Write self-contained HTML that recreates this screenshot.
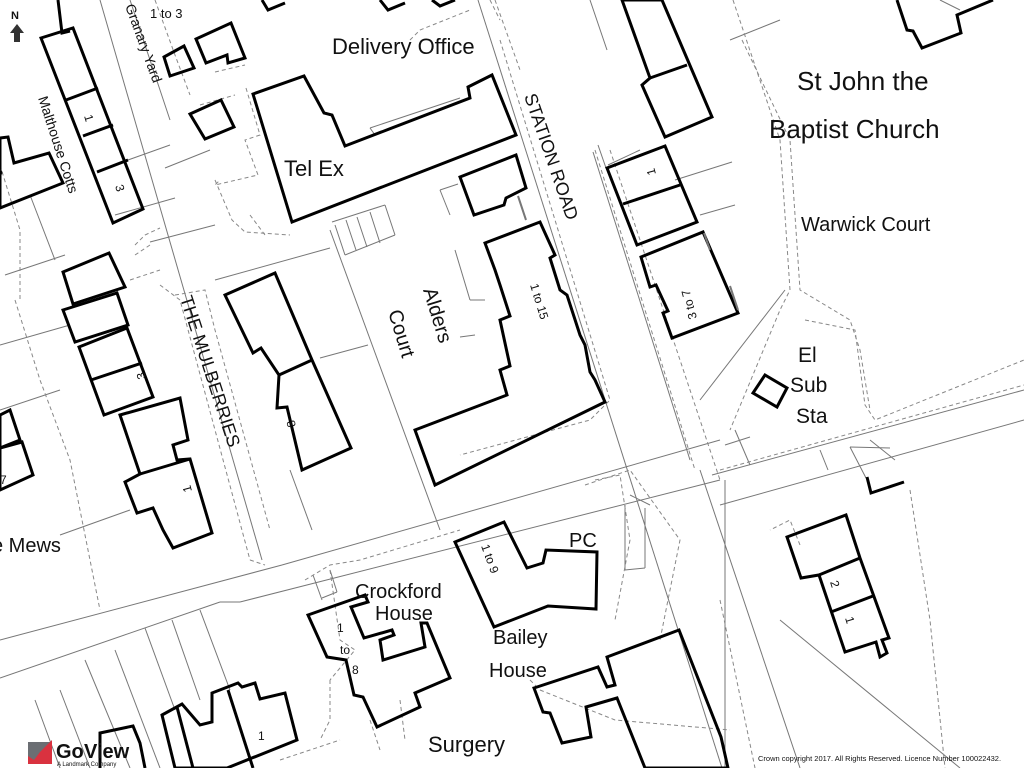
<!DOCTYPE html>
<html><head><meta charset="utf-8"><style>
html,body{margin:0;padding:0;background:#fff;width:1024px;height:768px;overflow:hidden}
svg{display:block}
text{font-family:"Liberation Sans",Arial,sans-serif;fill:#111}
.b{fill:none;stroke:#000;stroke-width:3;stroke-linejoin:miter}
.g{fill:none;stroke:#777;stroke-width:1}
.d{fill:none;stroke:#888;stroke-width:1;stroke-dasharray:4 3}
</style></head><body>
<svg width="1024" height="768" viewBox="0 0 1024 768" xmlns="http://www.w3.org/2000/svg">
<!-- road / boundary lines -->
<g class="g">
<line x1="478" y1="0" x2="722" y2="768"/>
<line x1="593" y1="152" x2="690" y2="460"/>
<line x1="700" y1="470" x2="800" y2="768"/>
<line x1="700" y1="400" x2="785" y2="290"/>
<line x1="590" y1="0" x2="607" y2="50"/>
<line x1="100" y1="0" x2="262" y2="560"/>
<line x1="130" y1="0" x2="170" y2="120"/>
<line x1="0" y1="640" x2="282" y2="565"/>
<line x1="0" y1="678" x2="220" y2="602"/>
<line x1="282" y1="565" x2="720" y2="440"/>
<line x1="220" y1="602" x2="240" y2="602"/>
<line x1="240" y1="602" x2="720" y2="480"/>
<line x1="720" y1="505" x2="1024" y2="420"/>
<line x1="712" y1="475" x2="1024" y2="390"/>
<line x1="725" y1="480" x2="725" y2="768"/>
<line x1="30" y1="195" x2="55" y2="260"/>
<line x1="0" y1="345" x2="70" y2="325"/>
<line x1="0" y1="410" x2="60" y2="390"/>
<line x1="5" y1="275" x2="65" y2="255"/>
<line x1="60" y1="535" x2="130" y2="510"/>
<line x1="128" y1="160" x2="170" y2="145"/>
<line x1="150" y1="242" x2="215" y2="225"/>
<line x1="100" y1="0" x2="100" y2="0"/>
<line x1="165" y1="168" x2="210" y2="150"/>
<line x1="115" y1="215" x2="175" y2="198"/>
<line x1="290" y1="470" x2="312" y2="530"/>
<line x1="330" y1="230" x2="440" y2="530"/>
<line x1="215" y1="280" x2="330" y2="248"/>
<line x1="320" y1="358" x2="368" y2="345"/>
<line x1="35" y1="700" x2="60" y2="768"/>
<line x1="60" y1="690" x2="90" y2="768"/>
<line x1="85" y1="660" x2="130" y2="768"/>
<line x1="115" y1="650" x2="160" y2="768"/>
<line x1="145" y1="628" x2="175" y2="710"/>
<line x1="172" y1="620" x2="200" y2="700"/>
<line x1="200" y1="610" x2="230" y2="690"/>
<line x1="313" y1="575" x2="322" y2="600"/>
<line x1="322" y1="598" x2="337" y2="592"/>
<line x1="330" y1="570" x2="337" y2="592"/>
<line x1="630" y1="495" x2="650" y2="505"/>
<line x1="625" y1="505" x2="625" y2="570"/>
<line x1="625" y1="570" x2="645" y2="568"/>
<line x1="645" y1="508" x2="645" y2="568"/>
<line x1="780" y1="620" x2="960" y2="768"/>
<line x1="735" y1="430" x2="750" y2="465"/>
<line x1="725" y1="445" x2="750" y2="437"/>
<line x1="675" y1="180" x2="732" y2="162"/>
<line x1="700" y1="215" x2="735" y2="205"/>
<line x1="608" y1="165" x2="640" y2="150"/>
<line x1="730" y1="40" x2="780" y2="20"/>
<line x1="940" y1="0" x2="960" y2="10"/>
<line x1="598" y1="145" x2="606" y2="168"/>
<line x1="866" y1="478" x2="850" y2="447"/>
<line x1="850" y1="447" x2="890" y2="448"/>
<line x1="870" y1="440" x2="895" y2="460"/>
<line x1="332" y1="222" x2="385" y2="205"/>
<line x1="345" y1="255" x2="335" y2="225"/>
<line x1="356" y1="250" x2="346" y2="220"/>
<line x1="367" y1="247" x2="357" y2="217"/>
<line x1="380" y1="243" x2="370" y2="212"/>
<line x1="385" y1="205" x2="395" y2="235"/>
<line x1="345" y1="255" x2="395" y2="235"/>
<line x1="370" y1="128" x2="460" y2="98"/>
<line x1="370" y1="128" x2="375" y2="135"/>
<line x1="440" y1="190" x2="450" y2="215"/>
<line x1="440" y1="190" x2="458" y2="184"/>
<line x1="455" y1="250" x2="470" y2="300"/>
<line x1="470" y1="300" x2="485" y2="300"/>
<line x1="460" y1="337" x2="475" y2="335"/>
<line x1="820" y1="450" x2="828" y2="470"/>
</g>
<g class="d">
<path d="M155 0 L175 55 L190 95"/>
<path d="M215 72 L245 65"/>
<path d="M200 105 L235 95"/>
<path d="M246 88 L260 135 L245 140 L258 175 L215 185 L220 180"/>
<path d="M215 180 L232 220 L245 232 L290 235"/>
<path d="M250 215 L265 235"/>
<path d="M410 40 L420 30 L470 10"/>
<path d="M495 0 L520 70"/>
<path d="M500 40 L610 400 L590 420 L460 455"/>
<path d="M490 0 L500 20"/>
<path d="M595 150 L695 470"/>
<path d="M610 150 L720 480"/>
<path d="M733 0 L780 140 L790 290 L780 310 L730 430"/>
<path d="M742 40 L790 140 L800 290 L850 320 L860 350 L870 410"/>
<path d="M805 320 L855 330 L865 405 L875 420 L1024 360"/>
<path d="M720 470 L1024 385"/>
<path d="M0 165 L20 230 L20 300"/>
<path d="M15 300 L40 380 L70 460 L100 610"/>
<path d="M135 245 L145 235 L160 228"/>
<path d="M130 280 L160 270"/>
<path d="M135 255 L150 245"/>
<path d="M160 285 L180 300 L250 560"/>
<path d="M250 560 L265 565"/>
<path d="M175 295 L205 290 L215 330 L270 530"/>
<path d="M305 580 L330 565 L360 560 L460 530"/>
<path d="M330 570 L340 640 L355 650 L330 680"/>
<path d="M330 680 L330 720 L320 740"/>
<path d="M585 485 L630 470 L680 540 L660 640"/>
<path d="M595 480 L620 475 L630 540 L615 620"/>
<path d="M530 680 L540 690"/>
<path d="M540 690 L615 720 L730 730"/>
<path d="M720 600 L755 768"/>
<path d="M400 700 L405 740"/>
<path d="M280 760 L340 740"/>
<path d="M370 720 L380 750"/>
<path d="M800 545 L790 520 L770 530"/>
<path d="M910 490 L930 620 L945 768"/>
</g>
<!-- buildings -->
<g class="b">
<polygon points="253,94 304,76 324,113 332,115 345,146 470,98 468,87 492,75 516,135 292,222"/>
<polygon points="190,114 221,100 234,127 205,139"/>
<polygon points="164,57 184,46 194,68 170,76"/>
<polygon points="196,39 231,23 245,58 228,63 227,55 206,63"/>
<polyline points="262,0 268,10 285,3"/>
<polyline points="380,0 388,10 405,3"/>
<polyline points="432,0 440,6 455,0"/>
<polygon points="41,38 73,28 143,209 113,223"/>
<line x1="66" y1="100" x2="98" y2="88"/>
<line x1="83" y1="136" x2="113" y2="125"/>
<line x1="97" y1="172" x2="128" y2="160"/>
<polyline points="58,0 62,33 70,31"/>
<polygon points="0,138 8,137 14,163 49,153 63,183 0,208"/>
<polygon points="0,415 10,410 20,440 0,448"/>
<polygon points="0,448 22,442 33,475 0,490"/>
<polygon points="63,272 109,253 125,287 73,304"/>
<polygon points="63,310 117,293 128,325 75,342"/>
<polygon points="79,347 127,328 153,397 104,415"/>
<line x1="91" y1="380" x2="142" y2="363"/>
<polygon points="120,415 180,398 188,440 173,445 177,460 190,459 212,533 173,548 163,530 153,508 137,513 125,482 140,474"/>
<line x1="140" y1="474" x2="190" y2="459"/>
<polygon points="225,295 275,273 312,360 351,448 302,470 287,407 277,408 279,375 261,348 253,353"/>
<line x1="279" y1="375" x2="312" y2="360"/>
<polygon points="460,177 516,155 526,188 506,198 504,205 474,215"/>
<polygon points="485,243 540,222 555,255 550,258 560,290 567,295 580,335 585,345 590,372 595,380 605,402 435,485 415,430 507,395 500,370 510,366 500,320 510,316 500,285 495,270"/>
<polygon points="622,0 662,0 712,117 665,137 642,85 650,78"/>
<line x1="650" y1="78" x2="687" y2="65"/>
<polygon points="607,168 665,146 697,222 637,245"/>
<line x1="623" y1="204" x2="680" y2="185"/>
<polygon points="641,257 703,232 738,313 672,338 663,313 668,311 656,285 650,287"/>
<polygon points="765,375 787,388 777,407 753,393"/>
<polyline points="897,0 907,30 913,31 922,48 961,33 957,15 993,0"/>
<polyline points="867,477 871,493 904,482"/>
<polygon points="455,542 504,522 527,568 543,563 546,550 597,552 596,609 548,606 494,627"/>
<polygon points="308,615 365,595 368,602 351,607 364,638 392,630 394,635 380,640 383,660 425,647 421,623 427,623 450,678 415,693 420,707 377,727 363,697 354,695 346,660 327,657"/>
<polygon points="534,688 598,667 607,687 615,685 607,657 679,630 721,737 728,768 645,768 617,698 586,707 591,737 562,743 550,713 543,712"/>
<polygon points="787,537 846,515 860,558 889,638 882,640 887,653 880,657 876,642 845,652 819,575 801,578"/>
<line x1="819" y1="575" x2="860" y2="558"/>
<line x1="831" y1="612" x2="873" y2="596"/>
<polygon points="162,715 182,704 200,725 212,722 212,693 238,683 242,687 255,683 260,699 285,693 297,740 227,768 175,768"/>
<line x1="177" y1="707" x2="193" y2="768"/>
<line x1="228" y1="690" x2="253" y2="768"/>
<polyline points="100,768 100,733 133,726 140,743 145,768"/>
</g>
<g stroke="#777" stroke-width="2"><line x1="518" y1="196" x2="526" y2="220"/><line x1="704" y1="233" x2="710" y2="250"/><line x1="730" y1="286" x2="738" y2="310"/></g>
<!-- labels -->
<text x="332" y="54" font-size="22">Delivery Office</text>
<text x="284" y="176" font-size="22">Tel Ex</text>
<text x="797" y="90" font-size="26">St John the</text>
<text x="769" y="138" font-size="26">Baptist Church</text>
<text x="801" y="231" font-size="20">Warwick Court</text>
<text x="798" y="362" font-size="21">El</text>
<text x="790" y="392" font-size="21">Sub</text>
<text x="796" y="423" font-size="21">Sta</text>
<text x="569" y="547" font-size="20">PC</text>
<text x="355" y="598" font-size="20">Crockford</text>
<text x="375" y="620" font-size="20">House</text>
<text x="493" y="644" font-size="20">Bailey</text>
<text x="489" y="677" font-size="20">House</text>
<text x="428" y="752" font-size="22">Surgery</text>
<text x="-8" y="552" font-size="20">e Mews</text>
<text x="150" y="18" font-size="13">1 to 3</text>
<text font-size="18" transform="translate(524,96) rotate(71)">STATION ROAD</text>
<text font-size="18" transform="translate(180,298) rotate(72)">THE MULBERRIES</text>
<text font-size="14" transform="translate(125,6) rotate(70)">Granary Yard</text>
<text font-size="14" transform="translate(38,98) rotate(72)">Malthouse Cotts</text>
<text font-size="20" transform="translate(423,290) rotate(73)">Alders</text>
<text font-size="20" transform="translate(388,312) rotate(73)">Court</text>
<text font-size="12" transform="translate(530,285) rotate(73)">1 to 15</text>
<text font-size="12" transform="translate(481,546) rotate(70)">1 to 9</text>
<text font-size="12" transform="translate(697,318) rotate(-105)">3 to 7</text>
<text font-size="12" x="337" y="632">1</text>
<text font-size="12" x="340" y="654">to</text>
<text font-size="12" x="352" y="674">8</text>
<text font-size="12" transform="translate(84,116) rotate(73)">1</text>
<text font-size="12" transform="translate(115,186) rotate(73)">3</text>
<text font-size="12" transform="translate(3,175) rotate(-105)">3</text>
<text font-size="12" transform="translate(146,378) rotate(-105)">3</text>
<text font-size="12" transform="translate(296,426) rotate(-105)">8</text>
<text font-size="12" transform="translate(192,491) rotate(-105)">1</text>
<text font-size="12" transform="translate(656,174) rotate(-105)">1</text>
<text font-size="12" transform="translate(830,582) rotate(73)">2</text>
<text font-size="12" transform="translate(845,618) rotate(73)">1</text>
<text font-size="12" x="258" y="740">1</text>
<text font-size="12" x="0" y="484">7</text>
<!-- north arrow -->
<text x="11" y="19" font-size="11" font-weight="bold" fill="#333">N</text>
<polygon points="17,24 10,33 14,33 14,42 20,42 20,33 24,33" fill="#333"/>
<!-- GoView logo -->
<polygon points="28,742 52,742 52,762 28,762" fill="#6b6e73"/>
<polygon points="40,752 52,740 52,764 28,764 28,756 34,760" fill="#d9323f"/>
<text x="56" y="758" font-size="20" font-weight="bold" fill="#d9323f">Go</text><text x="84" y="758" font-size="20" font-weight="bold" fill="#6b6e73">View</text>
<text x="57" y="766" font-size="6" fill="#666">A Landmark Company</text>
<text x="758" y="761" font-size="7.5" fill="#222">Crown copyright 2017. All Rights Reserved. Licence Number 100022432.</text>
</svg>
</body></html>
